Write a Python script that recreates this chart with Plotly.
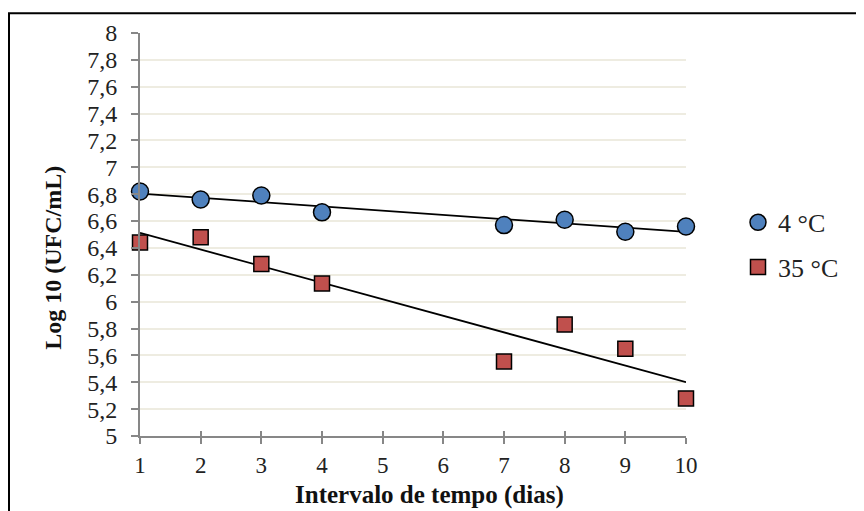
import numpy as np
import plotly.graph_objects as go

dias = [1, 2, 3, 4, 7, 8, 9, 10]
log_4c = [6.82, 6.76, 6.79, 6.665, 6.57, 6.61, 6.52, 6.56]
log_35c = [6.44, 6.48, 6.28, 6.135, 5.555, 5.83, 5.65, 5.28]
x_ticks = [1, 2, 3, 4, 5, 6, 7, 8, 9, 10]
series_names = ["4 °C", "35 °C"]
x_title = "Intervalo de tempo (dias)"
y_title = "Log 10 (UFC/mL)"

FONT = "Liberation Serif, Times New Roman, serif"
BLUE = "#4F81BD"
RED = "#C0504D"

fig = go.Figure()

def trend(x, y):
    m, b = np.polyfit(x, y, 1)
    xs = np.array([min(x_ticks), max(x_ticks)])
    return xs, m * xs + b

for y, color in [(log_4c, BLUE), (log_35c, RED)]:
    tx, ty = trend(dias, y)
    fig.add_trace(go.Scatter(x=tx, y=ty, mode="lines", line=dict(color="black", width=1.8),
                             showlegend=False, hoverinfo="skip", cliponaxis=False))

fig.add_trace(go.Scatter(x=dias, y=log_4c, mode="markers", name=series_names[0],
                         legendgroup="a",
                         marker=dict(symbol="circle", size=17, color=BLUE,
                                     line=dict(color="black", width=1.5)), cliponaxis=False))
fig.add_trace(go.Scatter(x=dias, y=log_35c, mode="markers", name=series_names[1],
                         legendgroup="b",
                         marker=dict(symbol="square", size=15, color=RED,
                                     line=dict(color="black", width=1.5)), cliponaxis=False))

# page body has an 8px margin in the browser
OFF = 8
W, H = 856, 503
PL, PR, PT, PB = 140, 686, 29, 436  # plot area in page pixels
L, T = PL - OFF, PT - OFF
R = OFF + W - PR
B = OFF + H - PB

def px_to_paper_x(px):
    return (px - PL) / (PR - PL)

def px_to_paper_y(py):
    return (PB - py) / (PB - PT)

fig.update_layout(
    width=W, height=H,
    margin=dict(l=L, r=R, t=T, b=B),
    paper_bgcolor="white", plot_bgcolor="white",
    separators=",.",
    font=dict(family=FONT, size=24, color="#222222"),
    showlegend=True,
    legend=dict(x=px_to_paper_x(738), y=px_to_paper_y(243), xanchor="left", yanchor="middle",
                font=dict(family=FONT, size=26, color="#222222"),
                traceorder="grouped", tracegroupgap=8,
                itemwidth=30, bgcolor="rgba(0,0,0,0)"),
    xaxis=dict(range=[1, 10], tickmode="array", tickvals=x_ticks,
               ticktext=[str(v) for v in x_ticks],
               showgrid=False, zeroline=False,
               showline=True, linecolor="#878787", linewidth=2,
               ticks="outside", ticklen=6, tickwidth=2, tickcolor="#878787",
               ticklabelstandoff=1,
               tickfont=dict(family=FONT, size=23, color="#222222")),
    xaxis2=dict(range=[1, 10], overlaying="x", side="bottom", tickmode="array",
                tickvals=x_ticks, showticklabels=False, showgrid=False, zeroline=False,
                showline=False, ticks="inside", ticklen=5, tickwidth=2, tickcolor="#878787"),
    yaxis=dict(range=[5, 8], dtick=0.2, tick0=5, tickformat=".1~f",
               showgrid=True, gridcolor="#EEECE1", gridwidth=2, zeroline=False,
               showline=True, linecolor="#878787", linewidth=2,
               ticks="outside", ticklen=7, tickwidth=2, tickcolor="#878787",
               ticklabelstandoff=9,
               tickfont=dict(family=FONT, size=24, color="#222222")),
    annotations=[
        dict(text="<b>%s</b>" % x_title, xref="paper", yref="paper",
             x=px_to_paper_x(429), y=px_to_paper_y(496), xanchor="center", yanchor="middle",
             showarrow=False, font=dict(family=FONT, size=25, color="#111111")),
        dict(text="<b>%s</b>" % y_title, xref="paper", yref="paper", textangle=-90,
             x=px_to_paper_x(53), y=px_to_paper_y(256), xanchor="center", yanchor="middle",
             showarrow=False, font=dict(family=FONT, size=24, color="#111111")),
    ],
    shapes=[dict(type="rect", xref="paper", yref="paper",
                 x0=px_to_paper_x(9), x1=px_to_paper_x(900),
                 y0=px_to_paper_y(560), y1=px_to_paper_y(9),
                 line=dict(color="black", width=2), layer="below")],
)

fig.add_trace(go.Scatter(x=[1, 10], y=[None, None], xaxis="x2", showlegend=False,
                         hoverinfo="skip", mode="lines"))

fig.write_html("out.html")
